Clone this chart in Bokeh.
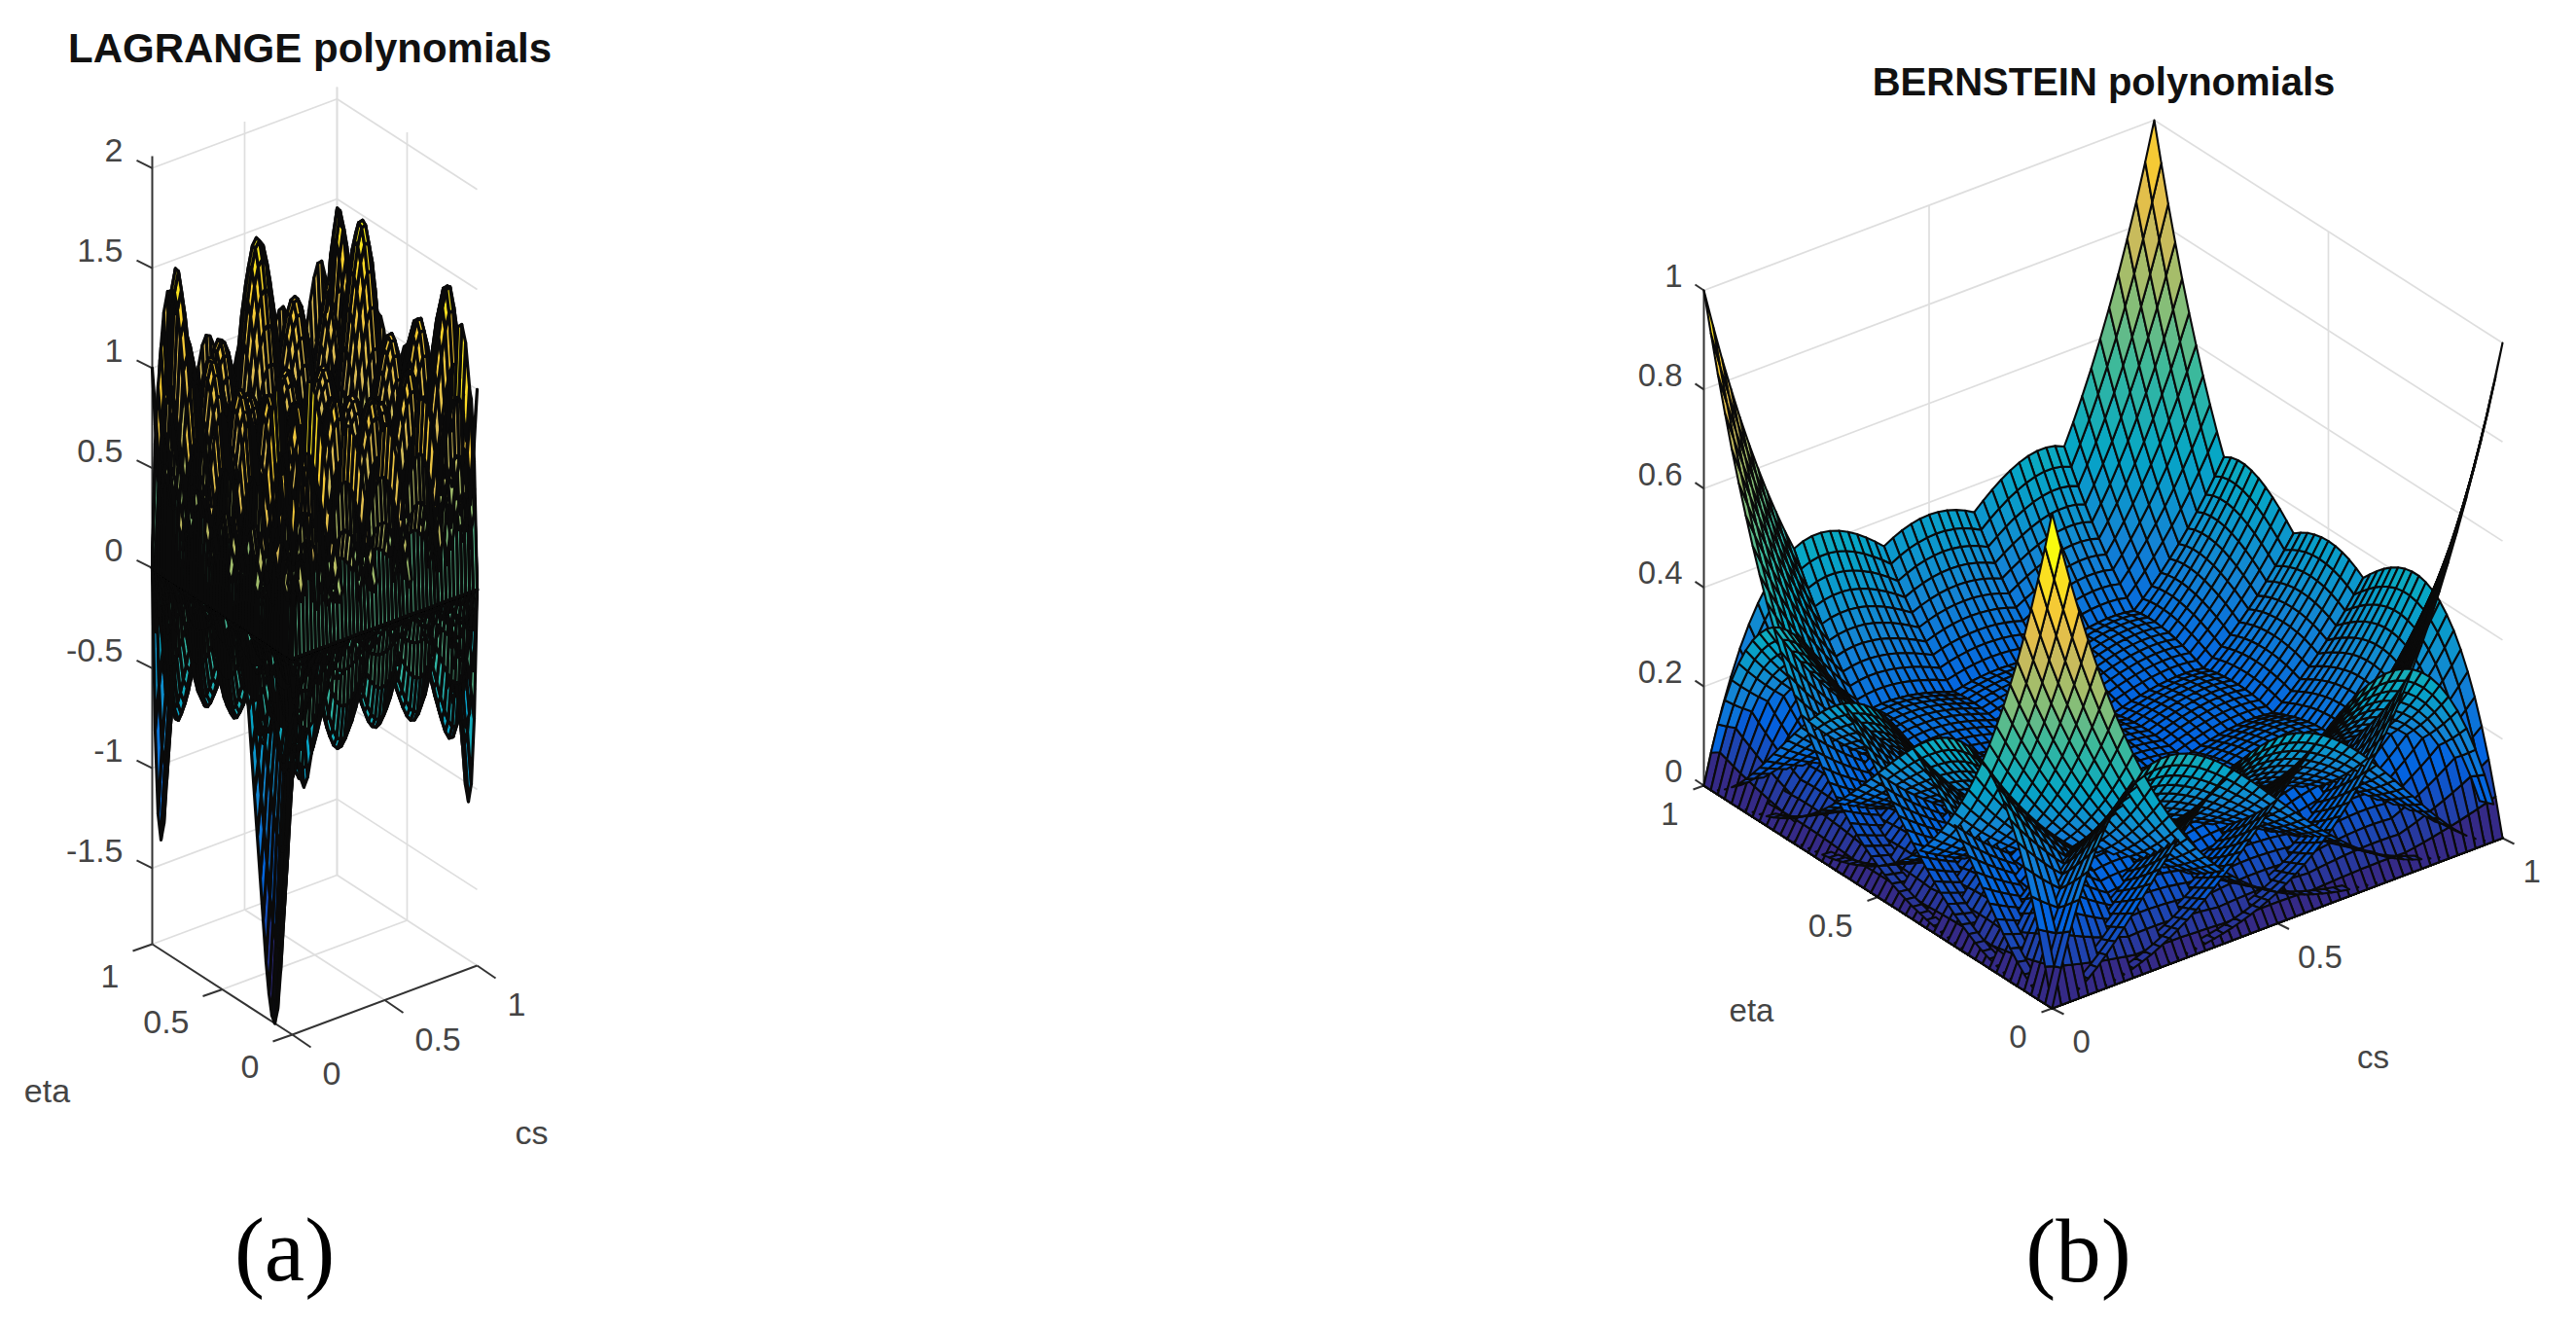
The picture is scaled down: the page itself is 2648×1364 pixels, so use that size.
import numpy as np
from bokeh.plotting import figure
from bokeh.models import ColumnDataSource, Range1d
from bokeh.core.properties import value
from bokeh.embed import file_html
from bokeh.resources import INLINE

# ---------- values ----------
bern_0 = [1.0,.9224,.8493,.7807,.7164,.6561,.5997,.5470,.4979,.4521,.4096,.3702,.3336,.2999,.2687,.2401,.2138,.1897,.1678,.1478,.1296,.1132,.0983,.0850,.0731,.0625,.0531,.0448,.0375,.0311,.0256,.0209,.0168,.0134,.0105,.0081,.0061,.0046,.0033,.0023,.0016,.0010,.0007,.0004,.0002,.0001,.0001,0,0,0,0]
bern_1 = [0,.0753,.1416,.1993,.2492,.2916,.3271,.3562,.3793,.3970,.4096,.4176,.4214,.4214,.4180,.4116,.4024,.3910,.3774,.3622,.3456,.3278,.3091,.2898,.2700,.25,.2300,.2102,.1908,.1719,.1536,.1362,.1196,.1038,.0892,.0756,.0634,.0521,.0420,.0331,.0256,.0190,.0138,.0093,.0060,.0036,.0018,.0008,.0004,0,0]
bern_2_half = [0,.0023,.0088,.0191,.0325,.0486,.0669,.0870,.1084,.1307,.1536,.1767,.1996,.2221,.2439,.2646,.2841,.3021,.3185,.3330,.3456,.3560,.3643,.3702,.3738,.375]

lag_0 = [1,.727,.513,.349,.226,.135,.071,.027,0,-.016,-.022,-.023,-.021,-.016,-.010,-.005,0,.004,.006,.007,.007,.006,.004,.002,0,-.002,-.004,-.005,-.005,-.005,-.004,-.002,0,.002,.004,.006,.007,.007,.006,.004,0,-.005,-.010,-.016,-.021,-.023,-.022,-.016,0]
lag_1 = [0,.623,1.027,1.257,1.354,1.35,1.275,1.151,1,.835,.670,.512,.369,.245,.142,.060,0,-.041,-.064,-.072,-.068,-.057,-.039,-.020,0,.017,.031,.039,.041,.038,.029,.016,0,-.017,-.033,-.045,-.053,-.053,-.045,-.027,0,.035,.075,.116,.150,.170,.162,.112,0]
lag_2 = [0,-.727,-1.100,-1.209,-1.128,-.920,-.637,-.320,0,.298,.558,.768,.923,1.021,1.063,1.053,1,.910,.793,.658,.513,.367,.229,.105,0,-.082,-.138,-.167,-.171,-.152,-.113,-.061,0,.062,.118,.161,.185,.183,.152,.091,0,-.115,-.245,-.375,-.483,-.542,-.513,-.352,0]
lag_3_half = [0,.632,.934,.998,.902,.711,.472,.226,0,-.186,-.319,-.394,-.410,-.371,-.283,-.156,0,.173,.353,.526,.683,.816,.917,.979,1]

# the deep spike at the near corner, read along its two directions
spike_eta = [0,-.45,-.9,-1.3,-1.6,-1.8,-1.88,-1.85,-1.75,-1.6,-1.4,-1.2,-1.0,-.8,-.6,-.4,-.25,-.1] + [0]*31
spike_cs = [1,.8,.55,.35,.18,.07] + [0]*43

# height factors per surface (row: cs function, column: eta function), read from the peaks and dips
lag_pos = [[1,1,1,1,1,.9,1],
           [1,.65,.8,.8,.8,.65,1],
           [1,.8,.8,.8,.8,.75,1],
           [1,.8,.8,.8,.9,1.12,1],
           [1,.8,.8,.8,.8,.8,1],
           [1,.82,.87,.8,1.08,.65,.9],
           [1,.6,1,1,1,.8,1]]
lag_neg = [[.45,.45,.45,.45,1.1,.45,.45],
           [.45,.45,.40,.45,.42,.45,.45],
           [.55,.40,.45,.45,.45,.45,.45],
           [.45,.45,.45,.45,.45,.45,.45],
           [.55,.40,.45,.45,.45,.45,.45],
           [.45,.45,.45,.45,.45,.45,.45],
           [.45,.45,.9,.45,.45,.45,.45]]

parula = ["#352A87","#0363E1","#1485D4","#06A7C6","#38B99E","#92BF73","#D9BA56","#FCCE2E","#F9FB0E"]

titles = ["LAGRANGE polynomials", "BERNSTEIN polynomials"]
captions = ["(a)", "(b)"]
z_ticks_a = [-1.5,-1,-.5,0,.5,1,1.5,2]
z_labels_a = ["-1.5","-1","-0.5","0","0.5","1","1.5","2"]
z_ticks_b = [0,.2,.4,.6,.8,1]
z_labels_b = ["0","0.2","0.4","0.6","0.8","1"]
xy_ticks = [0,.5,1]
xy_labels = ["0","0.5","1"]

# ---------- layout of the two boxes (page pixels) ----------
PANEL_A = dict(o=(300,1063), a=(190,-71), b=(-144,-93), zs=205.6, zmin=-1.88, zmax=2.06, ztop=2,
               zt=z_ticks_a, zl=z_labels_a, ztick=(-16,-8), etick=(-20,7), ctick=(19,13),
               zlab=(126,-18), elab=(-34,33), clab=(31,40), fs="34px",
               title=(318,49,"42px"), cap=(292,1284), eta=(48,1120), cs=(546,1163), lw=3.2, tkw=2)
PANEL_B = dict(o=(2109,1036), a=(463,-175), b=(-358,-229), zs=509, zmin=0, zmax=1, ztop=1,
               zt=z_ticks_b, zl=z_labels_b, ztick=(-9,-6), etick=(-11,4), ctick=(12,6),
               zlab=(1729,-15), elab=(-26,29), clab=(21,34), fs="33px",
               title=(2162,83,"40px"), cap=(2136,1285), eta=(1800,1038), cs=(2439,1086), lw=2.1, tkw=2)

W, H = 2648, 1364

def project(P, cs, eta, z):
    cs, eta, z = np.asarray(cs,float), np.asarray(eta,float), np.asarray(z,float)
    x = P["o"][0] + cs*P["a"][0] + eta*P["b"][0]
    y = P["o"][1] + cs*P["a"][1] + eta*P["b"][1] - (z-P["zmin"])*P["zs"]
    return x, y

def depth(P, cs, eta, z):
    v2 = -P["a"][0]/P["b"][0]
    v3 = (P["a"][1] + P["b"][1]*v2)/P["zs"]
    return cs + v2*eta + v3*z

def cmap(z, lo, hi):
    t = np.clip((z-lo)/(hi-lo),0,1)*(len(parula)-1)
    rgb = np.array([[int(c[k:k+2],16) for k in (1,3,5)] for c in parula],float)
    idx = np.arange(len(parula))
    r,g,b = [np.interp(t,idx,rgb[:,k]).astype(int) for k in range(3)]
    return ["#%02x%02x%02x"%(a,c,d) for a,c,d in zip(r,g,b)]

def build_quads(surfaces, grid):
    gc, ge = np.meshgrid(grid, grid, indexing="ij")
    QC, QE, QZ = [], [], []
    for Z in surfaces:
        QC.append(np.stack([gc[:-1,:-1],gc[1:,:-1],gc[1:,1:],gc[:-1,1:]],-1).reshape(-1,4))
        QE.append(np.stack([ge[:-1,:-1],ge[1:,:-1],ge[1:,1:],ge[:-1,1:]],-1).reshape(-1,4))
        QZ.append(np.stack([Z[:-1,:-1],Z[1:,:-1],Z[1:,1:],Z[:-1,1:]],-1).reshape(-1,4))
    return np.concatenate(QC), np.concatenate(QE), np.concatenate(QZ)

def visible(P, qc, qe, qz, M=5):
    # hidden-surface removal, so that the page holds only the cells one can see
    t = (np.arange(M)+.5)/M
    u, v = np.meshgrid(t,t,indexing="ij")
    u, v = u.ravel(), v.ravel()
    w = np.stack([(1-u)*(1-v),u*(1-v),u*v,(1-u)*v],-1).astype(np.float32)
    sc = qc.astype(np.float32)@w.T
    se = qe.astype(np.float32)@w.T
    sz = qz.astype(np.float32)@w.T
    x, y = project(P, sc, se, sz)
    d = depth(P, sc, se, sz).ravel()
    ids = np.repeat(np.arange(len(qc)), M*M)
    px = np.clip(x.ravel().astype(np.int32),0,W-1)
    py = np.clip(y.ravel().astype(np.int32),0,H-1)
    order = np.argsort(-d, kind="stable")
    buf = np.full((H,W),-1,np.int32)
    buf[py[order],px[order]] = ids[order]
    keep = np.unique(buf)
    return keep[keep>=0]

def draw_surface(p, P, surfaces, grid, lo, hi):
    qc, qe, qz = build_quads(surfaces, grid)
    keep = visible(P, qc, qe, qz)
    qc, qe, qz = qc[keep], qe[keep], qz[keep]
    d = depth(P, qc.mean(1), qe.mean(1), qz.mean(1))
    o = np.argsort(-d, kind="stable")
    qc, qe, qz = qc[o], qe[o], qz[o]
    x, y = project(P, qc, qe, qz)
    src = ColumnDataSource(dict(xs=np.round(x,1).tolist(), ys=np.round(y,1).tolist(), c=cmap(qz[:,0],lo,hi)))
    p.patches("xs","ys",source=src,fill_color="c",line_color="#0a0a0a",line_width=P["lw"],line_join="round")

def seg(p, P, pts, color, width):
    x0,y0 = project(P,*np.array([q[0] for q in pts]).T)
    x1,y1 = project(P,*np.array([q[1] for q in pts]).T)
    p.segment(x0,y0,x1,y1,line_color=color,line_width=width)

def draw_box(p, P):
    zmin, zmax = P["zmin"], P["zmax"]
    grid = []
    for z in P["zt"]:
        grid += [((0,1,z),(1,1,z)), ((1,1,z),(1,0,z))]
    for t in xy_ticks[1:]:
        grid += [((t,1,zmin),(t,1,zmax)), ((1,t,zmin),(1,t,zmax))]
    grid += [((0.5,0,zmin),(0.5,1,zmin)), ((0,0.5,zmin),(1,0.5,zmin)),
             ((0,1,zmin),(1,1,zmin)), ((1,1,zmin),(1,0,zmin))]
    seg(p, P, grid, "#dedede", 1.7)
    axes = [((0,1,zmin),(0,1,zmax)), ((0,1,zmin),(0,0,zmin)), ((0,0,zmin),(1,0,zmin))]
    seg(p, P, axes, "#333333", P["tkw"])

def draw_ticks(p, P):
    zmin = P["zmin"]
    for cs_, eta_, z_, off in (
        ([0]*len(P["zt"]), [1]*len(P["zt"]), P["zt"], P["ztick"]),
        ([0]*3, xy_ticks, [zmin]*3, P["etick"]),
        (xy_ticks, [0]*3, [zmin]*3, P["ctick"])):
        x,y = project(P, cs_, eta_, z_)
        p.segment(x,y,x+off[0],y+off[1],line_color="#333333",line_width=P["tkw"])

def draw_text(p, P, title, caption):
    tc = "#444444"
    font = value("Liberation Sans")
    x,y = project(P,[0]*len(P["zt"]),[1]*len(P["zt"]),P["zt"])
    p.text([P["zlab"][0]]*len(x), y+P["zlab"][1], text=P["zl"], text_align="right", text_baseline="middle",
           text_font=font, text_font_size=P["fs"], text_color=tc)
    x,y = project(P,[0]*3,xy_ticks,[P["zmin"]]*3)
    p.text(x+P["elab"][0], y+P["elab"][1], text=xy_labels, text_align="right", text_baseline="middle",
           text_font=font, text_font_size=P["fs"], text_color=tc)
    x,y = project(P,xy_ticks,[0]*3,[P["zmin"]]*3)
    p.text(x+P["clab"][0], y+P["clab"][1], text=xy_labels, text_align="left", text_baseline="middle",
           text_font=font, text_font_size=P["fs"], text_color=tc)
    p.text([P["eta"][0],P["cs"][0]],[P["eta"][1],P["cs"][1]], text=["eta","cs"], text_align="center",
           text_baseline="middle", text_font=font, text_font_size=P["fs"], text_color=tc)
    p.text([P["title"][0]],[P["title"][1]], text=[title], text_align="center", text_baseline="middle",
           text_font=font, text_font_style="bold", text_font_size=P["title"][2], text_color="#111111")
    p.text([P["cap"][0]],[P["cap"][1]], text=[caption], text_align="center", text_baseline="middle",
           text_font=value("Liberation Serif"), text_font_size="93px", text_color="#000000")

# ---------- tables to surfaces ----------
bern = [np.array(bern_0), np.array(bern_1), np.array(bern_2_half+bern_2_half[-2::-1]),
        np.array(bern_1[::-1]), np.array(bern_0[::-1])]
bern_grid = np.arange(51)/50
bern_surfaces = [np.outer(a,b) for a in bern for b in bern]

lag_3 = lag_3_half + lag_3_half[-2::-1]
lag = [np.array(lag_0), np.array(lag_1), np.array(lag_2), np.array(lag_3),
       np.array(lag_2[::-1]), np.array(lag_1[::-1]), np.array(lag_0[::-1])]
lag_grid = np.arange(49)/48
lag_surfaces = [np.outer(spike_cs, spike_eta)]
for i,a in enumerate(lag):
    for j,b in enumerate(lag):
        Z = np.outer(a,b)
        lag_surfaces.append(np.where(Z>0, Z*lag_pos[i][j], Z*lag_neg[i][j]))

# ---------- figure ----------
p = figure(width=2632, height=1348, x_range=Range1d(0,2632), y_range=Range1d(1348,0),
           x_axis_type=None, y_axis_type=None, toolbar_location=None, output_backend="svg",
           min_border=0, outline_line_color=None, background_fill_color="white", border_fill_color="white")

draw_box(p, PANEL_A)
draw_ticks(p, PANEL_A)
draw_surface(p, PANEL_A, lag_surfaces, lag_grid, -1.88, 1.57)
draw_text(p, PANEL_A, titles[0], captions[0])

draw_box(p, PANEL_B)
draw_ticks(p, PANEL_B)
draw_surface(p, PANEL_B, bern_surfaces, bern_grid, 0, 1)
draw_text(p, PANEL_B, titles[1], captions[1])

open("out.html","w").write(file_html(p, INLINE))
